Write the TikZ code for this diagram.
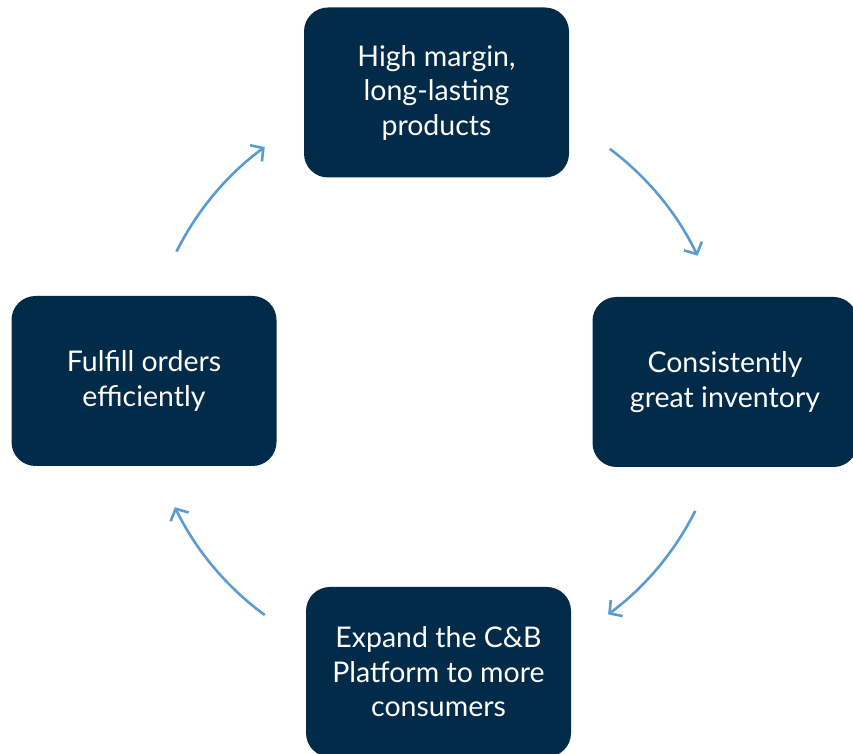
\documentclass[tikz,border=0pt]{standalone}
\usepackage{fontspec}
\setmainfont{Lato}
\usetikzlibrary{calc,arrows.meta}
\definecolor{navy}{HTML}{012B48}
\definecolor{arrowblue}{HTML}{5B9BD5}
\tikzset{
  box/.style={fill=navy, rounded corners=24pt, minimum width=265pt, minimum height=170pt,
    text=white, align=center, font=\fontsize{28.5}{34.5}\selectfont, inner sep=0pt},
  cyc/.style={draw=arrowblue, line width=2.6pt, -{Straight Barb[length=9pt,width=20pt,line width=2.6pt]}}
}
\begin{document}
\begin{tikzpicture}[x=1pt,y=1pt]
\useasboundingbox (0,0) rectangle (853,754);
\clip (0,0) rectangle (853,754);
\coordinate (c) at (436,373);
\node[box] (top) at (436.5,661.5) {High margin,\\long-lasting\\products};
\node[box] (right) at (725,372) {Consistently\\great inventory};
\node[box] (bottom) at (438.5,82) {Expand the C\&B\\Platform to more\\consumers};
\node[box] (left) at (144,373) {Fulfill orders\\efficiently};
\coordinate (a1) at ($(c)+(53.2:290)$);
\coordinate (a2) at ($(c)+(-26.6:290)$);
\coordinate (a3) at ($(c)+(-126.2:290)$);
\coordinate (a4) at ($(c)+(153.5:290)$);
\draw[cyc] (a1) arc[start angle=53.2, end angle=25.6, radius=290];
\draw[cyc] (a2) arc[start angle=-26.6, end angle=-53.6, radius=290];
\draw[cyc] (a3) arc[start angle=-126.2, end angle=-154.2, radius=290];
\draw[cyc] (a4) arc[start angle=153.5, end angle=126.2, radius=290];
\end{tikzpicture}
\end{document}
